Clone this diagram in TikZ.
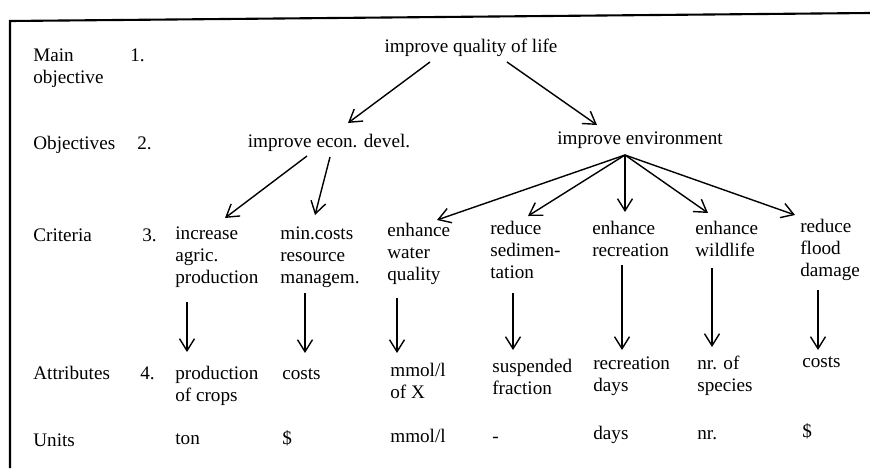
\documentclass[tikz,border=0pt]{standalone}
\usepackage{fontspec}
\setmainfont{Liberation Serif}
\usepackage{tikz}
\usetikzlibrary{arrows.meta,positioning,calc}

\begin{document}
\begin{tikzpicture}[
  x=0.2mm, y=-0.2mm,
  txt/.style={anchor=base west, align=left, inner sep=0pt, font=\fontsize{10.9}{12.5}\selectfont},
  mid/.style={anchor=base, inner sep=0pt, font=\fontsize{10.9}{12.5}\selectfont},
  arr/.style={-{Straight Barb[length=2.4mm,width=3mm]}, line width=0.8pt},
  frame/.style={line width=1.2pt}
]
  \useasboundingbox (0,0) rectangle (870,468);
  \draw[frame] (10,468) -- (10,21) -- (870,13);

  % levels (multi-line nodes sit on their last line)
  \node[txt] (main) at (33,83) {Main\\objective};
  \node[txt] (objs) at (33,149) {Objectives};
  \node[txt] (crit) at (33,241) {Criteria};
  \node[txt] (attr) at (33,379) {Attributes};
  \node[txt] (unit) at (33,446) {Units};
  \node[txt] (n1) at (130,61) {1.};
  \node[txt] (n2) at (137,149) {2.};
  \node[txt] (n3) at (142,241) {3.};
  \node[txt] (n4) at (140,379) {4.};

  % objectives
  \node[mid] (qol) at (471,52) {improve quality of life};
  \node[mid] (econ) at (329,147) {improve econ. devel.};
  \node[mid] (env) at (640,144) {improve environment};

  % criteria
  \node[txt] (c1) at (175,283) {increase\\agric.\\production};
  \node[txt] (c2) at (280,283) {min.costs\\resource\\managem.};
  \node[txt] (c3) at (387,280) {enhance\\water\\quality};
  \node[txt] (c4) at (490,278) {reduce\\sedimen-\\tation};
  \node[txt] (c5) at (592,256) {enhance\\recreation};
  \node[txt] (c6) at (695,256) {enhance\\wildlife};
  \node[txt] (c7) at (800,276) {reduce\\flood\\damage};

  % attributes
  \node[txt] (a1) at (175,401) {production\\of crops};
  \node[txt] (a2) at (282,379) {costs};
  \node[txt] (a3) at (390,398) {mmol/l\\of X};
  \node[txt] (a4) at (492,394) {suspended\\fraction};
  \node[txt] (a5) at (593,391) {recreation\\days};
  \node[txt] (a6) at (697,391) {nr. of\\species};
  \node[txt] (a7) at (802,367) {costs};

  % units
  \node[txt] (u1) at (175,444) {ton};
  \node[txt] (u2) at (282,444) {\$};
  \node[txt] (u3) at (390,442) {mmol/l};
  \node[txt] (u4) at (492,442) {-};
  \node[txt] (u5) at (593,439) {days};
  \node[txt] (u6) at (697,439) {nr.};
  \node[txt] (u7) at (802,437) {\$};

  \draw[arr] ($(qol.base)+(-41,10)$) -- ($(econ.base)+(19,-24)$);
  \draw[arr] ($(qol.base)+(36,10)$) -- ($(env.base)+(-43,-19)$);
  \draw[arr] ($(econ.base)+(-22,9)$) -- ($(c1.base west)+(50,-65)$);
  \draw[arr] ($(econ.base)+(1,10)$) -- ($(c2.base west)+(35,-68)$);

  \coordinate (envo) at ($(env.base)+(-15,11)$);
  \draw[arr] (envo) -- ($(c3.base west)+(50,-60)$);
  \draw[arr] (envo) -- ($(c4.base west)+(38,-62)$);
  \draw[arr] (envo) -- ($(c5.base west)+(33,-44)$);
  \draw[arr] (envo) -- ($(c6.base west)+(13,-43)$);
  \draw[arr] (envo) -- ($(c7.base west)+(-5,-61)$);

  \draw[arr] ($(c1.base west)+(12,19)$) -- ($(a1.base west)+(12,-49)$);
  \draw[arr] ($(c2.base west)+(25,10)$) -- ($(a2.base west)+(23,-26)$);
  \draw[arr] ($(c3.base west)+(10,18)$) -- ($(a3.base west)+(7,-45)$);
  \draw[arr] ($(c4.base west)+(23,15)$) -- ($(a4.base west)+(21,-44)$);
  \draw[arr] ($(c5.base west)+(30,9)$) -- ($(a5.base west)+(29,-41)$);
  \draw[arr] ($(c6.base west)+(17,12)$) -- ($(a6.base west)+(15,-44)$);
  \draw[arr] ($(c7.base west)+(18,14)$) -- ($(a7.base west)+(16,-17)$);
\end{tikzpicture}
\end{document}
